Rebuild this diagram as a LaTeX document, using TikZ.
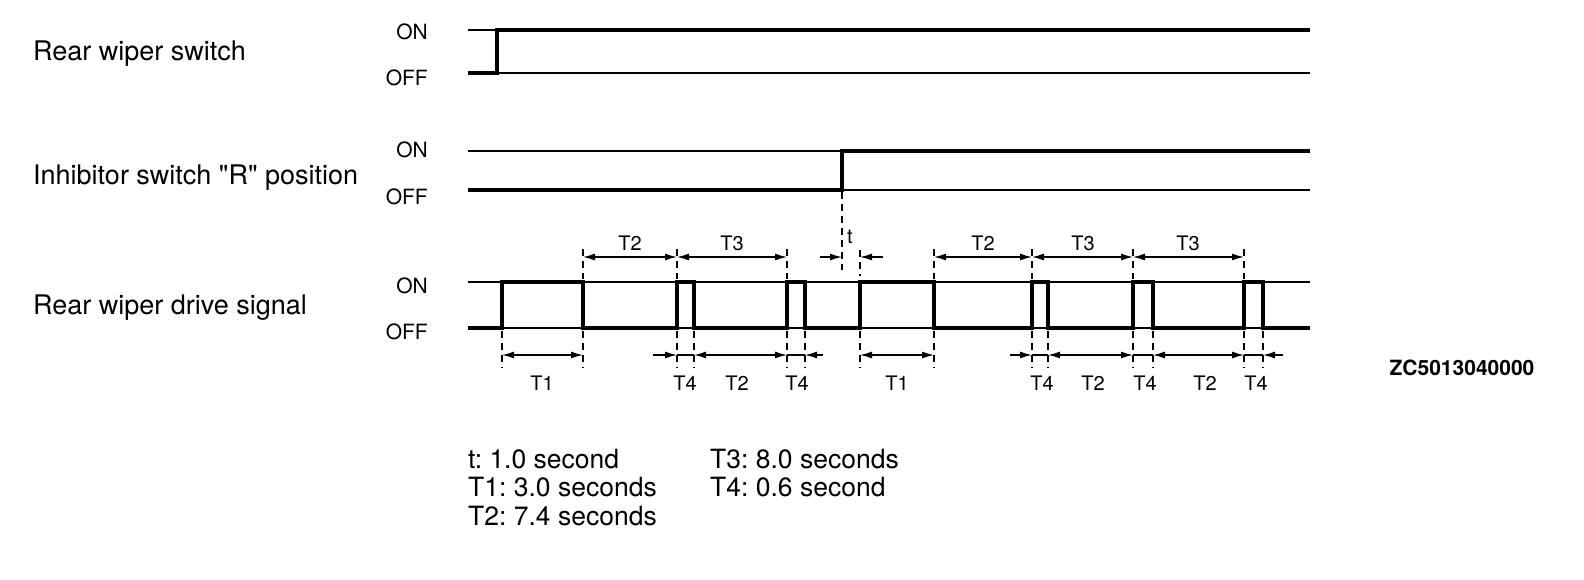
\documentclass[tikz,border=0pt]{standalone}
\usepackage{fontspec}
\setmainfont{TeX Gyre Heros}
\usetikzlibrary{arrows.meta}
\frenchspacing

\begin{document}
\begin{tikzpicture}[x=1pt, y=-1pt,
    level/.style={line width=1.3pt},
    signal/.style={line width=4.3pt, line join=miter},
    dim/.style={line width=1.3pt, {Latex[length=12pt,width=7pt]}-{Latex[length=12pt,width=7pt]}},
    dimin/.style={line width=1.3pt, -{Latex[length=12pt,width=7pt]}},
    dimbar/.style={line width=1.3pt},
    tick/.style={line width=1.2pt, dash pattern=on 7pt off 5pt},
    rowname/.style={anchor=base west, inner sep=0pt, font=\fontsize{27}{29}\selectfont},
    state/.style={anchor=east, inner sep=0pt, font=\fontsize{21}{22}\selectfont},
    tlabel/.style={inner sep=0pt, font=\fontsize{20}{22}\selectfont},
    legend/.style={anchor=base west, inner sep=0pt, font=\fontsize{26.5}{28}\selectfont}
  ]
    \useasboundingbox (0,0) rectangle (1584,579);

    \node[rowname] (swname)  at (33,60)  {Rear wiper switch};
    \node[rowname] (inhname) at (33,184) {Inhibitor switch \textquotedbl R\textquotedbl{} position};
    \node[rowname] (drvname) at (33,314) {Rear wiper drive signal};

    \node[state] (swon)   at (428,32)  {ON};
    \node[state] (swoff)  at (428,78)  {OFF};
    \node[state] (inhon)  at (428,150) {ON};
    \node[state] (inhoff) at (428,197) {OFF};
    \node[state] (drvon)  at (428,286) {ON};
    \node[state] (drvoff) at (428,332) {OFF};

    % rear wiper switch
    \draw[level] (468,30) -- (497,30);
    \draw[level] (497,73) -- (1310,73);
    \draw[signal] (468,73) -| (497,30) -- (1310,30);

    % inhibitor switch
    \draw[level] (468,151) -- (842,151);
    \draw[level] (842,190) -- (1310,190);
    \draw[signal] (468,190) -| (842,151) -- (1310,151);

    % drive signal
    \draw[level] (468,282) -- (1310,282);
    \draw[level] (468,328) -- (1310,328);
    \draw[signal] (468,328) -| (502,282) -| (583,328) -| (677,282) -| (694,328)
      -| (787,282) -| (805,328) -| (860,282) -| (934,328) -| (1032,282)
      -| (1048,328) -| (1133,282) -| (1153,328) -| (1244,282) -| (1263,328)
      -- (1310,328);

    \foreach \x in {583,677,787,934,1032,1133,1244}
      \draw[tick] (\x,249) -- (\x,279);
    \draw[tick] (842,192) -- (842,270);
    \draw[tick] (860,250) -- (860,276);
    \foreach \x in {502,583,677,694,787,805,860,934,1032,1048,1133,1153,1244,1263}
      \draw[tick] (\x,331) -- (\x,368);

    \draw[dim] (583,257) -- (677,257);
    \draw[dim] (677,257) -- (787,257);
    \draw[dimin] (820,257) -- (842,257);
    \draw[dimin] (883,257) -- (860,257);
    \draw[dim] (934,257) -- (1032,257);
    \draw[dim] (1032,257) -- (1133,257);
    \draw[dim] (1133,257) -- (1244,257);

    \node[tlabel] (t2a) at (630,243)  {T2};
    \node[tlabel] (t3a) at (732,243)  {T3};
    \node[tlabel] (ta)  at (850,237)  {t};
    \node[tlabel] (t2b) at (983,243)  {T2};
    \node[tlabel] (t3b) at (1083,243) {T3};
    \node[tlabel] (t3c) at (1188,243) {T3};

    \draw[dim] (502,355) -- (583,355);
    \draw[dimin] (653,355) -- (677,355);
    \draw[dimbar] (677,355) -- (694,355);
    \draw[dim] (694,355) -- (787,355);
    \draw[dimbar] (787,355) -- (805,355);
    \draw[dimin] (823,355) -- (805,355);
    \draw[dim] (860,355) -- (934,355);
    \draw[dimin] (1010,355) -- (1032,355);
    \draw[dimbar] (1032,355) -- (1048,355);
    \draw[dim] (1048,355) -- (1133,355);
    \draw[dimbar] (1133,355) -- (1153,355);
    \draw[dim] (1153,355) -- (1244,355);
    \draw[dimbar] (1244,355) -- (1263,355);
    \draw[dimin] (1283,355) -- (1263,355);

    \node[tlabel] (t1d) at (542,383)  {T1};
    \node[tlabel] (t4d) at (685,383)  {T4};
    \node[tlabel] (t2d) at (737,383)  {T2};
    \node[tlabel] (t4e) at (797,383)  {T4};
    \node[tlabel] (t1e) at (897,383)  {T1};
    \node[tlabel] (t4f) at (1042,383) {T4};
    \node[tlabel] (t2e) at (1093,383) {T2};
    \node[tlabel] (t4g) at (1145,383) {T4};
    \node[tlabel] (t2f) at (1205,383) {T2};
    \node[tlabel] (t4h) at (1256,383) {T4};

    \node[inner sep=0pt, font=\fontsize{21}{23}\selectfont\bfseries] (code) at (1462,368) {ZC5013040000};

    \node[legend] (lgt)  at (468,468) {t: 1.0 second};
    \node[legend] (lgt1) at (468,496) {T1: 3.0 seconds};
    \node[legend] (lgt2) at (468,525) {T2: 7.4 seconds};
    \node[legend] (lgt3) at (710,468) {T3: 8.0 seconds};
    \node[legend] (lgt4) at (710,496) {T4: 0.6 second};
  \end{tikzpicture}
\end{document}
